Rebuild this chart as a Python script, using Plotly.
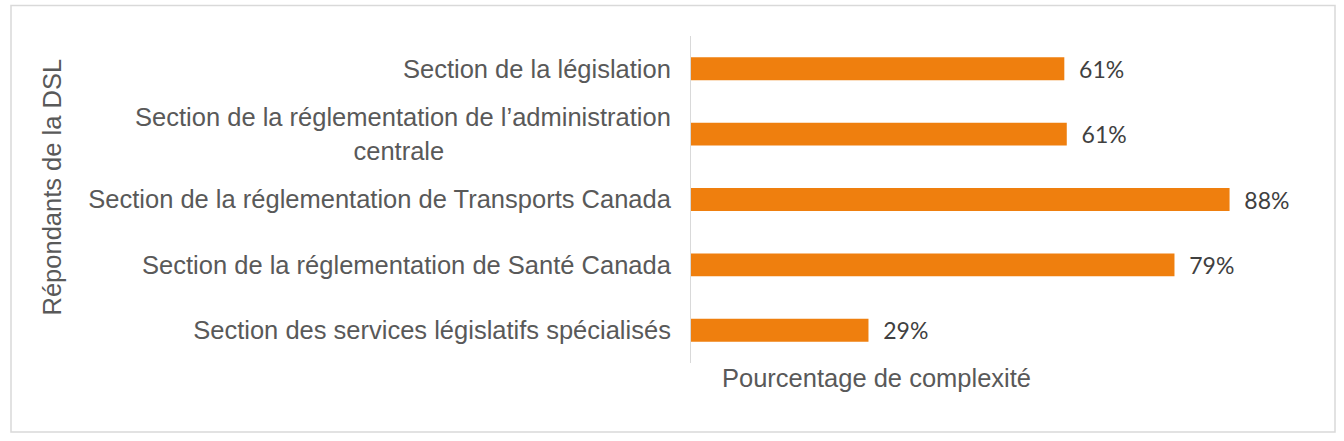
import plotly.graph_objects as go

categories = [
    "Section de la législation",
    "Section de la réglementation de l\u2019administration<br>centrale",
    "Section de la réglementation de Transports Canada",
    "Section de la réglementation de Santé Canada",
    "Section des services législatifs spécialisés",
]
values = [61, 61.4, 88, 79, 29]
x_title = "Pourcentage de complexité"
y_title = "Répondants de la DSL"

W, H = 1344, 441
L, R, T, B = 691, 1303, 36, 363
FS = 25.5

# centre the wrapped second line under the first
ticktext = []
for c in categories:
    if "<br>" in c:
        a, b = c.split("<br>")
        ticktext.append(a + "<br>" + b + "\u00a0" * 32)
    else:
        ticktext.append(c)

fig = go.Figure(go.Bar(
    y=categories, x=values, orientation="h",
    marker=dict(color="#EF7F0E", line=dict(width=0)),
    text=[f"{v:.0f}%" for v in values],
    texttemplate="\u00a0\u00a0%{text}",
    textposition="outside",
    constraintext="none",
    textfont=dict(family="Lato", size=23, color="#404040"),
    cliponaxis=False,
    width=0.35,
))

def px_x(p):
    return (p - L) / (R - L)

def px_y(p):
    return (B - p) / (B - T)

fig.update_layout(
    width=W, height=H,
    margin=dict(l=L, r=W - R, t=T, b=H - B),
    paper_bgcolor="white", plot_bgcolor="white",
    showlegend=False,
    font=dict(family="Liberation Sans, Arial", color="#595959"),
    xaxis=dict(range=[0, 100], visible=False, fixedrange=True),
    yaxis=dict(
        categoryorder="array", categoryarray=categories,
        autorange="reversed",
        tickvals=categories, ticktext=ticktext,
        showline=True, linecolor="#D9D9D9", linewidth=1,
        ticks="", showgrid=False, zeroline=False,
        tickfont=dict(family="Liberation Sans, Arial", size=FS, color="#595959"),
        ticklabelstandoff=14,
    ),
    shapes=[dict(
        type="rect", xref="paper", yref="paper",
        x0=px_x(11), x1=px_x(1335), y0=px_y(432), y1=px_y(5.5),
        line=dict(color="#D9D9D9", width=1.5), fillcolor="rgba(0,0,0,0)",
        layer="below",
    )],
    annotations=[
        dict(text=x_title, xref="paper", yref="paper",
             x=px_x(720), y=px_y(378), xanchor="left", yanchor="middle",
             showarrow=False,
             font=dict(family="Liberation Sans, Arial", size=FS, color="#595959")),
        dict(text=y_title, xref="paper", yref="paper",
             x=px_x(51), y=px_y(187.5), xanchor="center", yanchor="middle",
             textangle=-90, showarrow=False,
             font=dict(family="Liberation Sans, Arial", size=FS, color="#595959")),
    ],
)

fig.write_html(
    "out.html",
    config={"displayModeBar": False},
    post_script="document.body.style.margin='0';document.body.style.overflow='hidden';",
)
